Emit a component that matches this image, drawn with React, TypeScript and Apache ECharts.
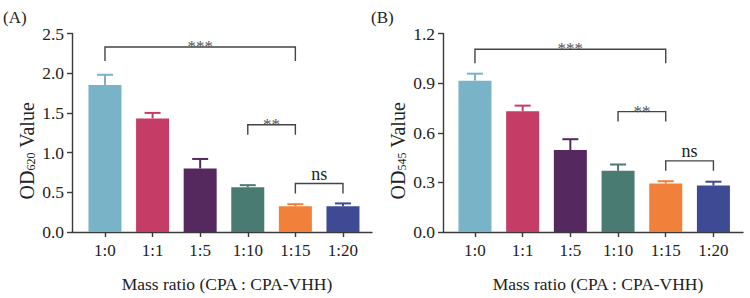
import React, { useEffect, useRef } from "react";
import * as echarts from "echarts";

const categories = ["1:0", "1:1", "1:5", "1:10", "1:15", "1:20"];
const barColors = ["#79b3c8", "#c53d66", "#55295e", "#4a7b73", "#f0803a", "#3f4a94"];

const meansA = [1.85, 1.43, 0.8, 0.565, 0.325, 0.325];
const capsA = [1.98, 1.5, 0.92, 0.59, 0.35, 0.36];
const meansB = [0.915, 0.73, 0.495, 0.37, 0.293, 0.281];
const capsB = [0.957, 0.764, 0.561, 0.408, 0.307, 0.304];

// [fromIndex, toIndex, height]
const bracketsA = [[0, 4, 2.33], [3, 4, 1.35], [4, 5, 0.61]];
const bracketsB = [[0, 4, 1.105], [3, 4, 0.728], [4, 5, 0.43]];
const bracketLabels = ["***", "**", "ns"];

const yTicksA = { min: 0, max: 2.5, interval: 0.5 };
const yTicksB = { min: 0, max: 1.2, interval: 0.3 };

const FONT = "Liberation Serif";
const AXIS_COLOR = "#3a3a3a";
const TEXT_COLOR = "#222";

export default function App() {
  const ref = useRef<HTMLDivElement>(null);

  useEffect(() => {
    if (!ref.current) return;
    const chart = echarts.init(ref.current, null, { renderer: "svg" });

    const idx = categories.map((_, i) => i);

    const xAxis = (gridIndex: number, min: number, max: number) => ({
      type: "value",
      gridIndex,
      min,
      max,
      splitLine: { show: false },
      axisLine: { show: true, onZero: false, lineStyle: { color: AXIS_COLOR, width: 1.4 } },
      axisTick: { show: true, customValues: idx, length: 5, lineStyle: { color: AXIS_COLOR, width: 1.4 } },
      axisLabel: {
        customValues: idx,
        formatter: (v: number) => categories[Math.round(v)] ?? "",
        color: TEXT_COLOR,
        fontFamily: FONT,
        fontSize: 17,
        margin: 10,
      },
      name: "Mass ratio (CPA : CPA-VHH)",
      nameLocation: "middle",
      nameGap: 43,
      nameTextStyle: { color: TEXT_COLOR, fontFamily: FONT, fontSize: 17.5, padding: [0, 0, 0, 10] },
    });

    const yAxis = (gridIndex: number, t: any, sub: string, fmt: (v: number) => string) => ({
      type: "value",
      gridIndex,
      min: t.min,
      max: t.max,
      interval: t.interval,
      splitLine: { show: false },
      axisLine: { show: true, onZero: false, lineStyle: { color: AXIS_COLOR, width: 1.4 } },
      axisTick: { show: true, length: 5, lineStyle: { color: AXIS_COLOR, width: 1.4 } },
      axisLabel: { formatter: fmt, color: TEXT_COLOR, fontFamily: FONT, fontSize: 17.5, margin: 8 },
      name: `{m|OD}{s|${sub}}{m| Value}`,
      nameLocation: "middle",
      nameGap: 35,
      nameTextStyle: {
        color: TEXT_COLOR,
        fontFamily: FONT,
        padding: [0, 36, 0, 0],
        rich: {
          m: { fontFamily: FONT, fontSize: 20, color: TEXT_COLOR },
          s: { fontFamily: FONT, fontSize: 12, color: TEXT_COLOR, verticalAlign: "bottom", padding: [8, 0, 0, 0] },
        },
      },
    });

    const barSeries = (i: number, means: number[]) => ({
      type: "bar",
      xAxisIndex: i,
      yAxisIndex: i,
      barWidth: 33,
      data: means.map((m, k) => ({ value: [k, m], itemStyle: { color: barColors[k] } })),
      z: 2,
    });

    const errSeries = (i: number, means: number[], caps: number[]) => ({
      type: "custom",
      xAxisIndex: i,
      yAxisIndex: i,
      z: 3,
      data: means.map((m, k) => [k, m, caps[k]]),
      renderItem: (params: any, api: any) => {
        const k = api.value(0);
        const p0 = api.coord([k, api.value(1)]);
        const p1 = api.coord([k, api.value(2)]);
        const c = barColors[k];
        const style = { stroke: c, lineWidth: 2 };
        return {
          type: "group",
          children: [
            { type: "line", shape: { x1: p0[0], y1: p0[1], x2: p1[0], y2: p1[1] }, style },
            { type: "line", shape: { x1: p1[0] - 8, y1: p1[1], x2: p1[0] + 8, y2: p1[1] }, style },
          ],
        };
      },
    });

    const bracketSeries = (i: number, brackets: number[][]) => ({
      type: "custom",
      xAxisIndex: i,
      yAxisIndex: i,
      z: 4,
      data: brackets.map((b, j) => [b[0], b[1], b[2], j]),
      renderItem: (params: any, api: any) => {
        const a = api.coord([api.value(0), api.value(2)]);
        const b = api.coord([api.value(1), api.value(2)]);
        const j = api.value(3);
        const leg = j === 0 ? 14 : 10;
        const label = bracketLabels[j];
        const isStar = label.indexOf("*") >= 0;
        return {
          type: "group",
          children: [
            {
              type: "polyline",
              shape: { points: [[a[0], a[1] + leg], [a[0], a[1]], [b[0], b[1]], [b[0], b[1] + leg]] },
              style: { stroke: "#444", lineWidth: 1.4, fill: "none" },
            },
            {
              type: "text",
              x: (a[0] + b[0]) / 2,
              y: isStar ? a[1] + 8 : a[1] - 1,
              style: {
                text: label,
                fontFamily: FONT,
                fontSize: isStar ? 17 : 18,
                fill: isStar ? "#555" : TEXT_COLOR,
                align: "center",
                verticalAlign: "bottom",
              },
            },
          ],
        };
      },
    });

    chart.setOption({
      animation: false,
      backgroundColor: "#ffffff",
      grid: [
        { left: 72, width: 300, top: 33.5, height: 200 },
        { left: 443, width: 300, top: 33.5, height: 201.5 },
      ],
      xAxis: [xAxis(0, -0.693, 5.61), xAxis(1, -0.67, 5.62)],
      yAxis: [
        yAxis(0, yTicksA, "620", (v) => v.toFixed(1)),
        yAxis(1, yTicksB, "545", (v) => v.toFixed(1)),
      ],
      graphic: [
        { type: "text", left: 3, top: 9, style: { text: "(A)", fontFamily: FONT, fontSize: 17, fill: TEXT_COLOR } },
        { type: "text", left: 371, top: 9, style: { text: "(B)", fontFamily: FONT, fontSize: 17, fill: TEXT_COLOR } },
      ],
      series: [
        barSeries(0, meansA),
        errSeries(0, meansA, capsA),
        bracketSeries(0, bracketsA),
        barSeries(1, meansB),
        errSeries(1, meansB, capsB),
        bracketSeries(1, bracketsB),
      ],
    });

    return () => chart.dispose();
  }, []);

  return <div ref={ref} style={{ width: 750, height: 298, position: "absolute", left: 0, top: 0 }} />;
}
